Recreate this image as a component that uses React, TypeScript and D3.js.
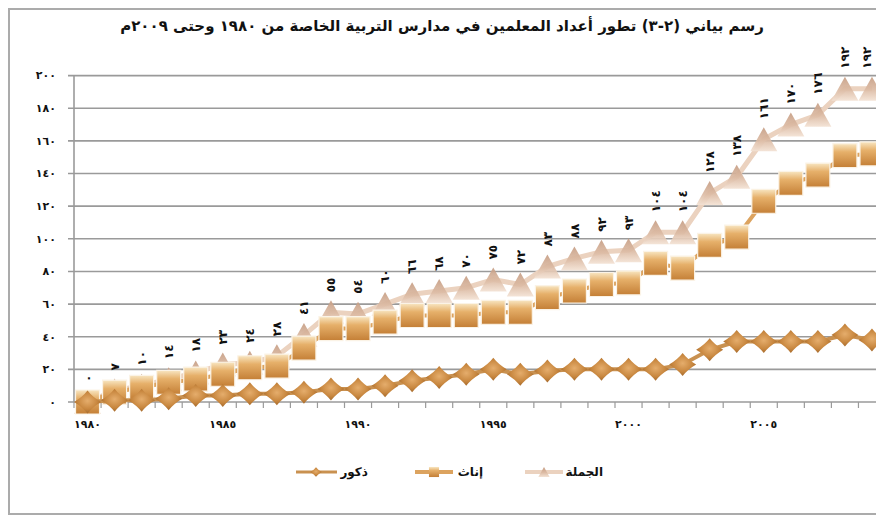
import React from 'react';
import * as d3 from 'd3';

// categories
const years = [
  1980, 1981, 1982, 1983, 1984, 1985, 1986, 1987, 1988, 1989,
  1990, 1991, 1992, 1993, 1994, 1995, 1996, 1997, 1998, 1999,
  2000, 2001, 2002, 2003, 2004, 2005, 2006, 2007, 2008, 2009,
];
const yearLabels = [1980, 1985, 1990, 1995, 2000, 2005];
const yTicks = [0, 20, 40, 60, 80, 100, 120, 140, 160, 180, 200];

// series values
const total = [0, 7, 10, 14, 18, 23, 24, 28, 41, 55, 54, 60, 66, 68, 70, 75, 72, 83, 88, 92, 93, 104, 104, 128, 138, 161, 170, 176, 192, 192];
const female = [0, 6, 9, 12, 14, 17, 21, 22, 33, 45, 45, 49, 53, 53, 53, 55, 55, 64, 68, 72, 73, 85, 82, 96, 101, 123, 134, 139, 151, 152];
const male = [0, 1, 1, 2, 4, 4, 5, 5, 6, 8, 8, 10, 13, 15, 17, 20, 17, 19, 20, 20, 20, 20, 23, 32, 37, 37, 37, 37, 41, 38];

const title = 'رسم بياني (٢-٣) تطور أعداد المعلمين في مدارس التربية الخاصة من ١٩٨٠ وحتى ٢٠٠٩م';
const seriesNames = { total: 'الجملة', female: 'إناث', male: 'ذكور' };

const toArabic = (n: number) => String(n).replace(/\d/g, (d) => '٠١٢٣٤٥٦٧٨٩'[+d]);

const arFont = '"DejaVu Sans", sans-serif';

const tri = 'M0,-12L13.5,12L-13.5,12Z';
const sq = 'M-12,-12H12V12H-12Z';
const dia = 'M0,-11.5Q5,-5 13.5,0Q5,5 0,11.5Q-5,5 -13.5,0Q-5,-5 0,-11.5Z';

export default function App() {
  const width = 876;
  const height = 522;
  const bandW = 27.05;

  const x = d3
    .scaleBand<number>()
    .domain(years)
    .range([74, 74 + bandW * years.length])
    .padding(0);
  const y = d3.scaleLinear().domain([0, 200]).range([402, 75.6]);
  const cx = (yr: number) => (x(yr) as number) + x.bandwidth() / 2;

  const line = d3
    .line<number>()
    .x((_, i) => cx(years[i]))
    .y((d) => y(d));

  return (
    <svg
      width={width}
      height={height}
      style={{ position: 'absolute', left: 0, top: 0, background: '#fff' }}
    >
      <defs>
        <linearGradient id="gTri" x1="0" y1="0" x2="0" y2="1">
          <stop offset="0%" stopColor="#c59c82" />
          <stop offset="55%" stopColor="#dcbba4" />
          <stop offset="100%" stopColor="#f3e2d4" />
        </linearGradient>
        <linearGradient id="gSq" x1="0" y1="0" x2="0" y2="1">
          <stop offset="0%" stopColor="#f8e6c2" />
          <stop offset="35%" stopColor="#e6b06a" />
          <stop offset="100%" stopColor="#c47f36" />
        </linearGradient>
        <radialGradient id="gDia" cx="50%" cy="45%" r="60%">
          <stop offset="0%" stopColor="#e5ad6c" />
          <stop offset="60%" stopColor="#c8873f" />
          <stop offset="100%" stopColor="#9c6329" />
        </radialGradient>
      </defs>

      {/* frame */}
      <rect x={9} y={9} width={900} height={505} fill="#fff" stroke="#ababab" strokeWidth={2} />

      <text
        x={442}
        y={31}
        textAnchor="middle"
        direction="rtl"
        fontFamily={arFont}
        fontWeight="bold"
        fontSize={15}
        fill="#111"
      >
        {title}
      </text>

      {/* gridlines */}
      {yTicks.map((t) => (
        <g key={t}>
          <line x1={68} x2={width} y1={y(t)} y2={y(t)} stroke="#9a9a9a" strokeWidth={1.6} />
          <text
            x={56}
            y={y(t)}
            dy="0.35em"
            textAnchor="end"
            fontFamily={arFont}
            fontWeight="bold"
            fontSize={11}
            letterSpacing={2}
            fill="#111"
          >
            {toArabic(t)}
          </text>
        </g>
      ))}
      <line x1={74} x2={74} y1={y(200)} y2={y(0)} stroke="#9a9a9a" strokeWidth={1.6} />

      {/* x ticks */}
      {years.map((yr) => (
        <line
          key={yr}
          x1={x(yr) as number}
          x2={x(yr) as number}
          y1={y(0)}
          y2={y(0) + 6}
          stroke="#9a9a9a"
          strokeWidth={1.2}
        />
      ))}
      {yearLabels.map((yr) => (
        <text
          key={yr}
          x={cx(yr)}
          y={428}
          textAnchor="middle"
          fontFamily={arFont}
          fontWeight="bold"
          fontSize={11}
          letterSpacing={1.5}
          fill="#111"
        >
          {toArabic(yr)}
        </text>
      ))}

      {/* total */}
      <path d={line(total) as string} fill="none" stroke="#ebd2bf" strokeWidth={5} />
      {total.map((v, i) => (
        <path key={i} d={tri} transform={`translate(${cx(years[i])},${y(v)})`} fill="url(#gTri)" opacity={0.92} />
      ))}

      {/* female */}
      <path d={line(female) as string} fill="none" stroke="#dca35f" strokeWidth={4} />
      {female.map((v, i) => (
        <path
          key={i}
          d={sq}
          transform={`translate(${cx(years[i])},${y(v)})`}
          fill="url(#gSq)"
          stroke="#fbf3e6"
          strokeWidth={1.2}
        />
      ))}

      {/* male */}
      <path d={line(male) as string} fill="none" stroke="#c99150" strokeWidth={4} />
      {male.map((v, i) => (
        <path key={i} d={dia} transform={`translate(${cx(years[i])},${y(v)})`} fill="url(#gDia)" />
      ))}

      {/* data labels on total */}
      {total.map((v, i) => (
        <text
          key={i}
          transform={`translate(${Math.min(cx(years[i]), 867)},${y(v) - 20}) rotate(-90)`}
          dy="0.35em"
          textAnchor="start"
          fontFamily={arFont}
          fontWeight="bold"
          fontSize={12}
          letterSpacing={1}
          fill="#111"
        >
          {toArabic(v)}
        </text>
      ))}

      {/* legend */}
      <g>
        <line x1={525} x2={563} y1={472} y2={472} stroke="#ebd2bf" strokeWidth={4} />
        <path d={tri} transform="translate(544,472) scale(0.42)" fill="url(#gTri)" />
        <text x={603} y={472} dy="0.35em" textAnchor="end" fontFamily={arFont} fontWeight="bold" fontSize={12} fill="#111">
          {seriesNames.total}
        </text>

        <line x1={415} x2={453} y1={472} y2={472} stroke="#dca35f" strokeWidth={4} />
        <path d={sq} transform="translate(434,472) scale(0.42)" fill="url(#gSq)" />
        <text x={483} y={472} dy="0.35em" textAnchor="end" fontFamily={arFont} fontWeight="bold" fontSize={12} fill="#111">
          {seriesNames.female}
        </text>

        <line x1={296} x2={337} y1={472} y2={472} stroke="#c99150" strokeWidth={3} />
        <path d={dia} transform="translate(316,472) scale(0.42)" fill="url(#gDia)" />
        <text x={368} y={472} dy="0.35em" textAnchor="end" fontFamily={arFont} fontWeight="bold" fontSize={12} fill="#111">
          {seriesNames.male}
        </text>
      </g>
    </svg>
  );
}
